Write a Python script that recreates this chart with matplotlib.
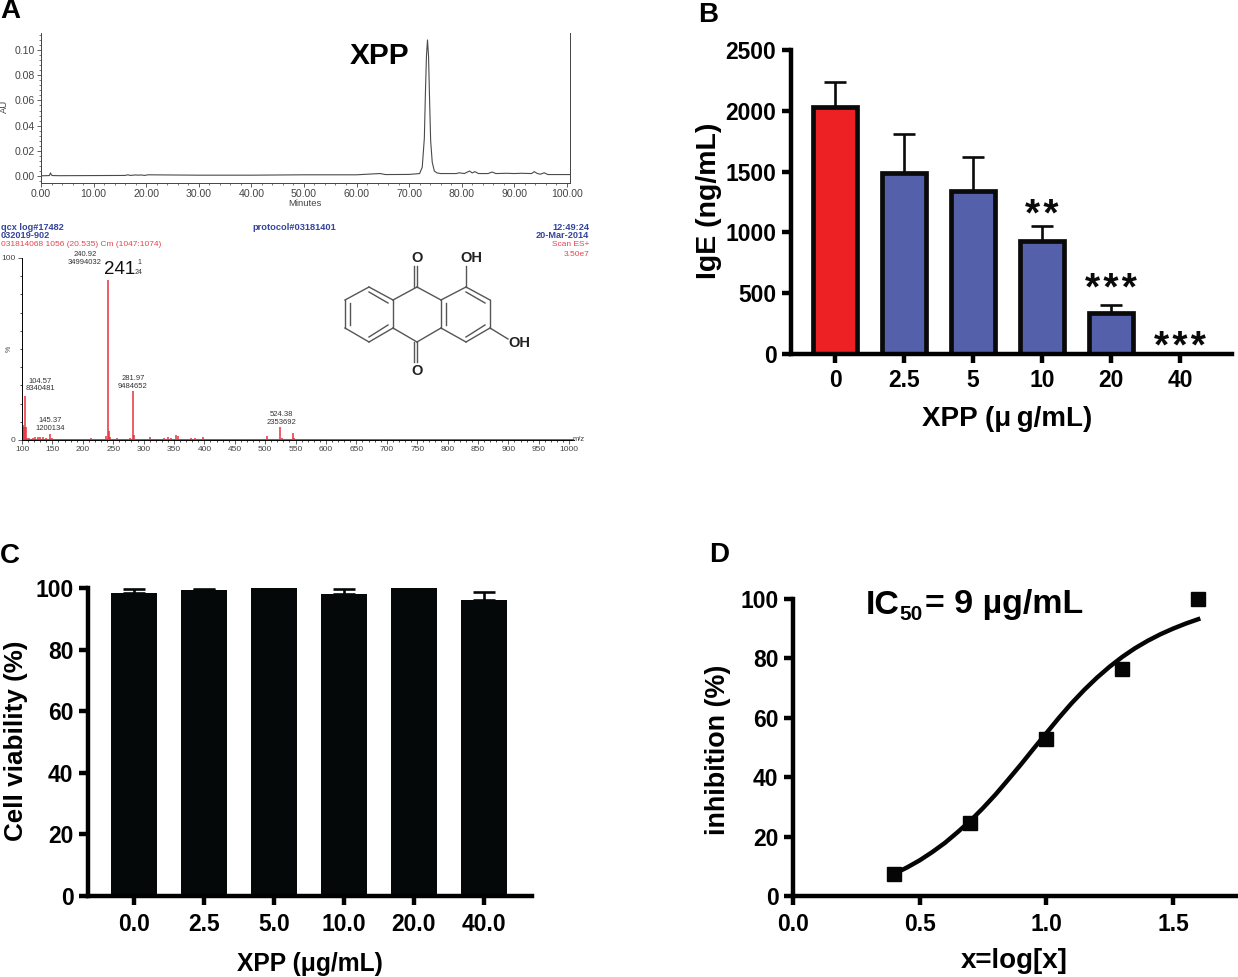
import matplotlib

matplotlib.use("Agg")
import matplotlib.pyplot as plt
from matplotlib.ticker import FixedLocator, MultipleLocator

plt.rcParams["font.family"] = ["Liberation Sans", "DejaVu Sans"]

W, H = 1238, 977

# A, chromatogram (minutes, AU)
chrom_t = [0, 1.6, 1.8, 2.0, 2.2, 3.5, 10, 16, 16.5, 17, 18, 18.5, 19, 19.7, 20.3, 30, 40, 50, 60, 63.5, 64.5, 65.5, 70, 72,
           72.5, 72.9, 73.1, 73.3, 73.5, 73.7, 73.9, 74.1, 74.4, 74.8, 75.3, 76, 79, 79.5, 80.5, 81.5, 82, 82.5, 83.2, 85,
           85.8, 86.5, 88.7, 90, 91.3, 93.3, 93.8, 94.4, 95, 95.7, 96.4, 100, 100.6]
chrom_au = [0.0002, 0.0004, 0.0025, 0.0008, 0.0004, 0.0003, 0.0004, 0.0005, 0.001, 0.0005, 0.0009, 0.0007, 0.0009, 0.0005,
            0.001, 0.0007, 0.0007, 0.001, 0.001, 0.0018, 0.002, 0.0012, 0.0013, 0.002, 0.007, 0.03, 0.065, 0.095, 0.108,
            0.095, 0.06, 0.028, 0.011, 0.004, 0.0025, 0.002, 0.002, 0.0026, 0.002, 0.004, 0.0025, 0.0035, 0.002, 0.002,
            0.0032, 0.002, 0.0022, 0.002, 0.0022, 0.002, 0.0035, 0.002, 0.0015, 0.0026, 0.0012, 0.0012, 0.0012]
chrom_ticks = [0, 10, 20, 30, 40, 50, 60, 70, 80, 90, 100]
chrom_yticks = [0.00, 0.02, 0.04, 0.06, 0.08, 0.10]

# A, mass spectrum (m/z, %)
ms_mz = [101, 103, 104.6, 106, 108, 112, 118, 122, 127, 130, 134, 139, 145.4, 150, 158, 164, 170, 176, 182, 188, 195, 203,
         214, 222, 232, 238, 240.9, 243, 245, 250, 257, 263, 270, 278, 282, 285, 292, 300, 311, 318, 325, 333, 340, 345,
         353, 356, 362, 368, 378, 384, 390, 397, 400, 410, 430, 450, 478, 490, 503, 515, 524.4, 527, 535, 545, 548, 565,
         580, 600, 630, 660, 700, 750, 800, 850, 900, 950]
ms_pct = [8, 7, 24, 7, 1, 1.2, 1, 1.5, 1.6, 1.8, 1.5, 1.2, 3.5, 1, 0.8, 0.5, 0.8, 0.5, 0.6, 0.5, 0.6, 0.4, 1.2, 0.7, 0.8, 2,
          88, 5, 1.5, 0.5, 1.2, 0.5, 0.6, 1, 27, 3, 0.5, 0.6, 1.4, 0.5, 0.7, 1, 1.4, 1, 3, 2, 0.7, 0.8, 1, 0.9, 0.5, 1.4,
          0.8, 0.4, 0.5, 0.4, 0.7, 0.4, 2, 0.5, 7, 1.2, 0.5, 4, 1.2, 0.6, 0.4, 0.4, 0.5, 0.3, 0.3, 0.2, 0.3, 0.2, 0.2, 0.2]
ms_xticks = list(range(100, 1001, 50))

# B
ige_labels = ["0", "2.5", "5", "10", "20", "40"]
ige_mean = [2030, 1490, 1340, 930, 335, 0]
ige_err = [210, 320, 280, 120, 65, 0]
ige_stars = ["", "", "", "**", "***", "***"]
ige_star_y = [0, 0, 0, 1135, 530, 50]
ige_colors = ["#ed2024", "#5560aa", "#5560aa", "#5560aa", "#5560aa", "#5560aa"]

# C
via_labels = ["0.0", "2.5", "5.0", "10.0", "20.0", "40.0"]
via_mean = [98.5, 99.2, 100, 98.1, 100, 96.2]
via_err = [1.3, 0.6, 0, 1.7, 0, 2.4]

# D
log_x = [0.4, 0.7, 1.0, 1.3, 1.6]
inhib = [7.3, 24.5, 53, 76.5, 100]
fit_x = [0.4, 0.45, 0.5, 0.55, 0.6, 0.65, 0.7, 0.75, 0.8, 0.85, 0.9, 0.95, 1.0, 1.05, 1.1, 1.15, 1.2, 1.25, 1.3, 1.35, 1.4,
         1.45, 1.5, 1.55, 1.6]
fit_y = [7.5, 9.6, 12, 14.8, 17.9, 21.5, 25.3, 29.6, 34.2, 39.2, 44.3, 49.6, 54.8, 60, 64.9, 69.4, 73.5, 77.2, 80.5, 83.4,
         85.9, 88.1, 90, 91.7, 93.2]


def ax_px(left, top, right, bottom):
    return fig.add_axes([left / W, 1 - bottom / H, (right - left) / W, (bottom - top) / H])


def txt(x, y, s, **kw):
    kw.setdefault("ha", "center")
    kw.setdefault("va", "center")
    fig.text(x / W, 1 - y / H, s, **kw)


def prism_axes(ax, lw=3.2, xpad=4):
    ax.spines[["top", "right"]].set_visible(False)
    ax.spines[["left", "bottom"]].set_linewidth(lw)
    ax.tick_params(width=lw, length=6.5, labelsize=16.5, pad=4)
    ax.tick_params(axis="x", pad=xpad)
    for lab in ax.get_xticklabels() + ax.get_yticklabels():
        lab.set_fontweight("bold")


fig = plt.figure(figsize=(W / 100, H / 100), dpi=100)
gray = "#444444"

# panel letters
for x, y, s in [(10, 11, "A"), (708, 15, "B"), (10, 556, "C"), (719, 555, "D")]:
    txt(x, y, s, fontsize=20, fontweight="bold")

# A top
ax = ax_px(41, 33, 570, 183)
ax.plot(chrom_t, chrom_au, color="#4a4a4a", lw=0.8)
ax.set_xlim(0, 100.6)
ax.set_ylim(-0.0055, 0.1135)
ax.spines["top"].set_visible(False)
for s in ax.spines.values():
    s.set_linewidth(0.7)
    s.set_color(gray)
ax.xaxis.set_major_locator(FixedLocator(chrom_ticks))
ax.set_xticklabels([f"{t:.2f}" for t in chrom_ticks])
ax.xaxis.set_minor_locator(MultipleLocator(2))
ax.yaxis.set_major_locator(FixedLocator(chrom_yticks))
ax.set_yticklabels([f"{t:.2f}" for t in chrom_yticks])
ax.yaxis.set_minor_locator(MultipleLocator(0.004))
ax.tick_params(labelsize=7.6, colors=gray, width=0.6, length=3, pad=1.5)
ax.tick_params(which="minor", width=0.5, length=1.5, colors=gray)
txt(305, 204, "Minutes", fontsize=6.8, color=gray)
txt(4, 106, "AU", fontsize=6.8, color=gray, rotation=90)
txt(380, 56, "XPP", fontsize=21.5, fontweight="bold")

# A header of spectrum
blue = "#34459a"
red = "#e8434d"
txt(1, 227, "qcx log#17482", fontsize=6.6, fontweight="bold", color=blue, ha="left")
txt(1, 236, "032019-902", fontsize=6.6, fontweight="bold", color=blue, ha="left")
txt(1, 245, "031814068 1056 (20.535) Cm (1047:1074)", fontsize=6, color=red, ha="left")
txt(294, 227, "protocol#03181401", fontsize=6.7, fontweight="bold", color=blue)
txt(589, 227, "12:49:24", fontsize=6.6, fontweight="bold", color=blue, ha="right")
txt(589, 236, "20-Mar-2014", fontsize=6.6, fontweight="bold", color=blue, ha="right")
txt(589, 245, "Scan ES+", fontsize=6, color=red, ha="right")
txt(589, 254, "3.50e7", fontsize=6, color=red, ha="right")

# A spectrum
ax = ax_px(22, 258, 574, 440)
ax.vlines(ms_mz, 0, ms_pct, color="#e8303c", lw=1.1)
ax.axhline(0, color="#e8303c", lw=1.4)
ax.set_xlim(100, 1008)
ax.set_ylim(0, 100)
ax.spines[["top", "right"]].set_visible(False)
ax.spines[["left", "bottom"]].set_linewidth(0.7)
ax.xaxis.set_major_locator(FixedLocator(ms_xticks))
ax.xaxis.set_minor_locator(MultipleLocator(10))
ax.yaxis.set_major_locator(FixedLocator([0, 100]))
ax.yaxis.set_minor_locator(MultipleLocator(10))
ax.tick_params(labelsize=6, colors=gray, width=0.6, length=3, pad=1.5)
ax.tick_params(which="minor", width=0.5, length=1.5)
txt(9, 349, "%", fontsize=5, color=gray, rotation=90)
txt(579, 440, "m/z", fontsize=5.5, color=gray)
for x, y, s in [(85, 254, "240.92"), (85, 262, "34994032"), (40, 381, "104.57"), (40, 389, "8340481"),
                (133, 378, "281.97"), (133, 386, "9484652"), (50, 421, "145.37"), (50, 429, "1200134"),
                (281, 415, "524.38"), (281, 423, "2353692")]:
    txt(x, y, s, fontsize=5.5, color="#333333")
txt(120, 269, "241", fontsize=13.5, color="#111111")
txt(139, 263, "1", fontsize=5, color="#333333")
txt(139, 272, "24", fontsize=5, color="#333333")

# A structure, in pixel space
ov = fig.add_axes([0, 0, 1, 1], zorder=5)
ov.set_xlim(0, W)
ov.set_ylim(H, 0)
ov.axis("off")
bonds = [
    (369, 287, 393, 300), (393, 300, 393, 328), (393, 328, 369, 342), (369, 342, 345, 328), (345, 328, 345, 300),
    (345, 300, 369, 287), (393, 300, 417, 287), (417, 287, 441, 300), (441, 300, 441, 328), (441, 328, 417, 342),
    (417, 342, 393, 328), (441, 300, 466, 287), (466, 287, 490, 300), (490, 300, 490, 328), (490, 328, 466, 342),
    (466, 342, 441, 328), (417, 287, 417, 266), (466, 287, 466, 266), (490, 328, 508, 339), (417, 342, 417, 362),
    (369, 292, 388, 303), (350, 303, 350, 325), (369, 337, 388, 325), (446, 303, 446, 325), (466, 292, 485, 303),
    (466, 337, 485, 325), (414, 266, 414, 287), (414, 342, 414, 362),
]
for x0, y0, x1, y1 in bonds:
    ov.plot([x0, x1], [y0, y1], color="#555555", lw=1.0)
txt(417, 258, "O", fontsize=10.5, fontweight="bold", color="#222222")
txt(417, 371, "O", fontsize=10.5, fontweight="bold", color="#222222")
txt(471, 258, "OH", fontsize=10.5, fontweight="bold", color="#222222")
txt(519, 343, "OH", fontsize=10.5, fontweight="bold", color="#222222")

# B
ax = ax_px(791, 50, 1232, 354)
x = list(range(len(ige_labels)))
ax.bar(x, ige_mean, width=0.63, color=ige_colors, edgecolor="#0a0a0a", linewidth=3.4)
ax.errorbar(x[:-1], ige_mean[:-1], yerr=[[0] * 5, ige_err[:-1]], fmt="none", ecolor="#0a0a0a", elinewidth=1.9, capsize=8,
            capthick=1.9)
ax.set_xlim(-0.638, 5.754)
ax.set_ylim(0, 2500)
ax.set_xticks(x)
ax.set_xticklabels(ige_labels)
ax.set_yticks([0, 500, 1000, 1500, 2000, 2500])
prism_axes(ax)
for i, s in enumerate(ige_stars):
    if s:
        ax.text(i, ige_star_y[i], "\u200a".join(s), ha="center", va="center", fontsize=28, fontweight="bold",
                color="#0a0a0a")
txt(709, 201, "IgE (ng/mL)", fontsize=20.5, fontweight="bold", rotation=90)
txt(1007, 419, "XPP (μ\u2009g/mL)", fontsize=20, fontweight="bold")

# C
ax = ax_px(88, 588, 532, 896)
x = list(range(len(via_labels)))
ax.bar(x, via_mean, width=0.67, color="#050808")
err_x = [i for i in x if via_err[i] > 0]
ax.errorbar(err_x, [via_mean[i] for i in err_x], yerr=[[0] * len(err_x), [via_err[i] for i in err_x]], fmt="none",
            ecolor="#050808", elinewidth=1.9, capsize=8, capthick=1.9, clip_on=False)
ax.set_xlim(-0.657, 5.686)
ax.set_ylim(0, 100)
ax.set_xticks(x)
ax.set_xticklabels(via_labels)
ax.set_yticks([0, 20, 40, 60, 80, 100])
prism_axes(ax, xpad=5.5)
txt(16, 741, "Cell viability (%)", fontsize=18.7, fontweight="bold", rotation=90)
txt(310, 964, "XPP (μg/mL)", fontsize=17.7, fontweight="bold")

# D
ax = ax_px(793, 599, 1238, 896)
ax.plot(fit_x, fit_y, color="#050505", lw=3.2)
ax.plot(log_x, inhib, ls="none", marker="s", ms=9.5, color="#050505", clip_on=False)
ax.set_xlim(0, 1.757)
ax.set_ylim(0, 100)
ax.set_xticks([0, 0.5, 1.0, 1.5])
ax.set_yticks([0, 20, 40, 60, 80, 100])
prism_axes(ax, xpad=5.5)
txt(718, 750, "inhibition (%)", fontsize=19.4, fontweight="bold", rotation=90)
txt(1014, 961, "x=log[x]", fontsize=20, fontweight="bold")
txt(866, 605, "IC", fontsize=24.5, fontweight="bold", ha="left")
txt(899, 615, "50", fontsize=15, fontweight="bold", ha="left")
txt(925, 605, "= 9 µg/mL", fontsize=24.5, fontweight="bold", ha="left")

fig.savefig("out.png", dpi=100)
